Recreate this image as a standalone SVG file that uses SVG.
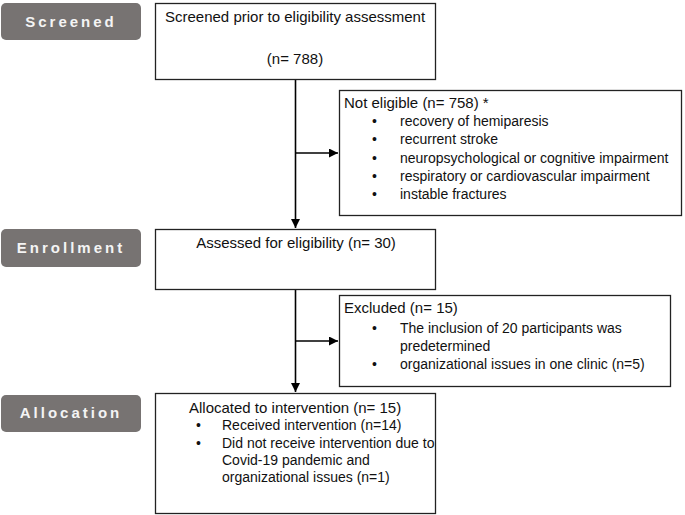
<svg xmlns="http://www.w3.org/2000/svg" width="685" height="515" viewBox="0 0 685 515">
<defs>
<style>
.lab{fill:#777372}
.labt{font-family:"Liberation Sans",Arial,sans-serif;font-size:15px;font-weight:bold;fill:#f4f4f4;letter-spacing:3px;text-anchor:middle}
.box{fill:#fff;stroke:#222;stroke-width:1.3}
.t{font-family:"Liberation Sans",Arial,sans-serif;font-size:14px;fill:#111}
.h{font-size:15px}
.c{text-anchor:middle}
.ln{stroke:#000;stroke-width:1.6;fill:none}
</style>
<marker id="ah" viewBox="0 0 10 10" refX="10" refY="5" markerWidth="9" markerHeight="9" markerUnits="userSpaceOnUse" orient="auto">
<path d="M0,0 L10,5 L0,10 Z" fill="#000"/>
</marker>
</defs>
<rect width="685" height="515" fill="#fff"/>

<g id="label-screened"><rect class="lab" x="1" y="3" width="140" height="37" rx="5"/><text class="labt" x="71" y="26.5">Screened</text></g>
<g id="label-enrollment"><rect class="lab" x="1" y="229" width="140" height="38" rx="5"/><text class="labt" x="71" y="253">Enrollment</text></g>
<g id="label-allocation"><rect class="lab" x="1" y="395" width="140" height="37" rx="5"/><text class="labt" x="71" y="418">Allocation</text></g>

<g id="connectors">
<line class="ln" x1="295.5" y1="79" x2="295.5" y2="228" marker-end="url(#ah)"/>
<line class="ln" x1="295.5" y1="153" x2="338" y2="153" marker-end="url(#ah)"/>
<line class="ln" x1="295.5" y1="289" x2="295.5" y2="392" marker-end="url(#ah)"/>
<line class="ln" x1="295.5" y1="341" x2="338" y2="341" marker-end="url(#ah)"/>
</g>

<g id="screened">
<rect class="box" x="155.5" y="3.5" width="280" height="76"/>
<text class="t h" x="165" y="22">Screened prior to eligibility assessment</text>
<text class="t h c" x="295" y="64">(n= 788)</text>
</g>

<g id="not-eligible">
<rect class="box" x="339.5" y="90.5" width="342" height="125"/>
<text class="t h" x="344" y="108">Not eligible (n= 758) *</text>
<text class="t" x="372" y="126">•</text><text class="t" x="400" y="126">recovery of hemiparesis</text>
<text class="t" x="372" y="144">•</text><text class="t" x="400" y="144">recurrent stroke</text>
<text class="t" x="372" y="163">•</text><text class="t" x="400" y="163">neuropsychological or cognitive impairment</text>
<text class="t" x="372" y="181">•</text><text class="t" x="400" y="181">respiratory or cardiovascular impairment</text>
<text class="t" x="372" y="199">•</text><text class="t" x="400" y="199">instable fractures</text>
</g>

<g id="assessed">
<rect class="box" x="155.5" y="229.5" width="280" height="60"/>
<text class="t h c" x="296" y="248">Assessed for eligibility (n= 30)</text>
</g>

<g id="excluded">
<rect class="box" x="339.5" y="295.5" width="331" height="91"/>
<text class="t h" x="344" y="313">Excluded (n= 15)</text>
<text class="t" x="372" y="333">•</text><text class="t" x="400" y="333">The inclusion of 20 participants was</text>
<text class="t" x="400" y="351">predetermined</text>
<text class="t" x="372" y="369">•</text><text class="t" x="400" y="369">organizational issues in one clinic (n=5)</text>
</g>

<g id="allocated">
<rect class="box" x="155.5" y="393.5" width="280" height="120"/>
<text class="t h" x="189" y="413">Allocated to intervention (n= 15)</text>
<text class="t" x="196" y="430">•</text><text class="t" x="222" y="430">Received intervention (n=14)</text>
<text class="t" x="196" y="448">•</text><text class="t" x="222" y="448">Did not receive intervention due to</text>
<text class="t" x="222" y="465">Covid-19 pandemic and</text>
<text class="t" x="222" y="482">organizational issues (n=1)</text>
</g>
</svg>
